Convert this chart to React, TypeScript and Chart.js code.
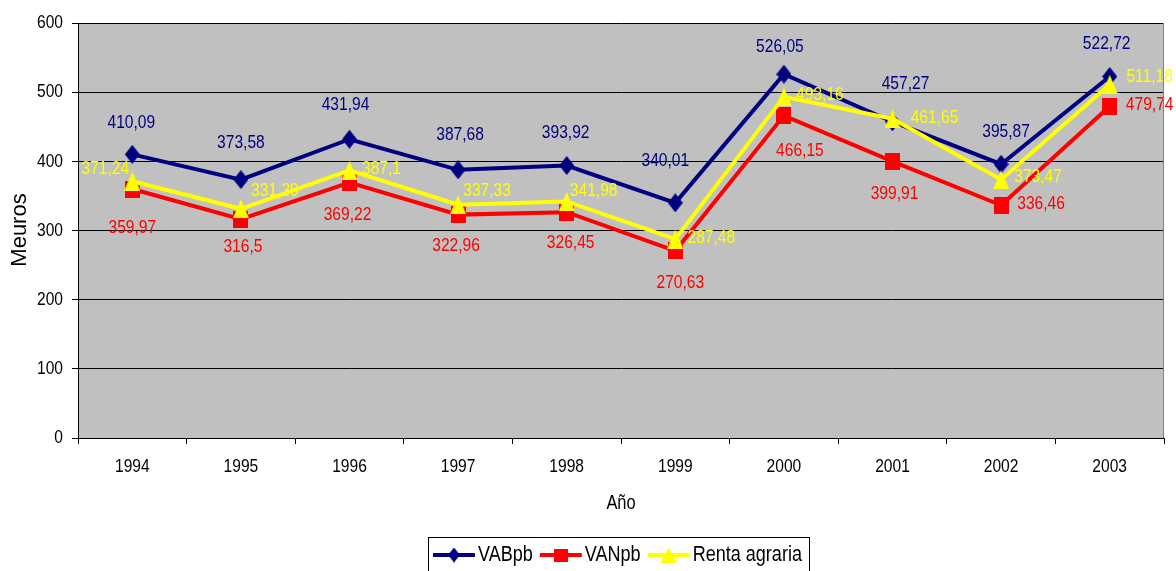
import React, { useEffect, useRef } from 'react';
import { Chart, registerables } from 'chart.js';

Chart.register(...registerables);

const years = ['1994', '1995', '1996', '1997', '1998', '1999', '2000', '2001', '2002', '2003'];
const vabpb = [410.09, 373.58, 431.94, 387.68, 393.92, 340.01, 526.05, 457.27, 395.87, 522.72];
const vanpb = [359.97, 316.5, 369.22, 322.96, 326.45, 270.63, 466.15, 399.91, 336.46, 479.74];
const renta = [371.24, 331.39, 387.1, 337.33, 341.98, 287.48, 493.16, 461.65, 373.47, 511.18];
const seriesNames = ['VABpb', 'VANpb', 'Renta agraria'];
const yMin = 0;
const yMax = 600;
const yStep = 100;
const yTitle = 'Meuros';
const xTitle = 'Año';

// label placement (offset of label centre from its point, in px)
const labelOffsetsVAB = [[-1, -32], [0, -37], [-4, -34], [2, -35], [-1, -33], [-10, -42], [-4, -27], [13, -38], [5, -32], [-3, -33]];
const labelOffsetsVAN = [[0, 39], [2, 28], [-2, 32], [-2, 31], [4, 31], [5, 32], [16, 35], [2, 32], [40, -2], [40, -1]];
const labelOffsetsRenta = [[-27, -12], [34, -18], [32, -1], [29, -14], [27, -11], [36, -1], [36, -2], [42, -1], [37, -3], [40, -8]];

const FONT = "'Liberation Sans', Arial, sans-serif";
const SX = 0.82; // horizontal condensing of text
const NAVY = '#000080';
const RED = '#FF0000';
const YELLOW = '#FFFF00';

const fmt = (v: number) => String(v).replace('.', ',');

function drawText(ctx: CanvasRenderingContext2D, text: string, x: number, y: number, size: number, color: string, align: CanvasTextAlign) {
  ctx.save();
  ctx.translate(x, y);
  ctx.scale(SX, 1);
  ctx.font = `${size}px ${FONT}`;
  ctx.fillStyle = color;
  ctx.textAlign = align;
  ctx.textBaseline = 'middle';
  ctx.fillText(text, 0, 0);
  ctx.restore();
}

function makeMarker(kind: string, w: number, h: number, color: string): HTMLCanvasElement {
  const c = document.createElement('canvas');
  c.width = w;
  c.height = h;
  const g = c.getContext('2d') as CanvasRenderingContext2D;
  g.fillStyle = color;
  g.beginPath();
  if (kind === 'diamond') {
    g.moveTo(w / 2, 0);
    g.lineTo(w, h / 2);
    g.lineTo(w / 2, h);
    g.lineTo(0, h / 2);
  } else if (kind === 'triangle') {
    g.moveTo(w / 2, 0);
    g.lineTo(w, h);
    g.lineTo(0, h);
  } else {
    g.rect(0, 0, w, h);
  }
  g.closePath();
  g.fill();
  return c;
}

const backgroundPlugin = {
  id: 'plotBg',
  beforeDraw(chart: any) {
    const { ctx, chartArea: a } = chart;
    ctx.save();
    ctx.fillStyle = '#FFFFFF';
    ctx.fillRect(0, 0, chart.width, chart.height);
    ctx.fillStyle = '#C0C0C0';
    ctx.fillRect(a.left, a.top, a.right - a.left, a.bottom - a.top);
    ctx.restore();
  },
  afterDraw(chart: any) {
    const { ctx, chartArea: a } = chart;
    ctx.save();
    ctx.strokeStyle = '#808080';
    ctx.lineWidth = 1;
    ctx.beginPath();
    ctx.moveTo(a.right - 0.5, a.top);
    ctx.lineTo(a.right - 0.5, a.bottom);
    ctx.stroke();
    ctx.restore();

    // tick labels
    const xs = chart.scales.x;
    const ys = chart.scales.y;
    xs.ticks.forEach((t: any, i: number) => {
      drawText(ctx, String(xs.getLabelForValue(t.value)), xs.getPixelForTick(i), 467, 19, '#000', 'center');
    });
    ys.ticks.forEach((t: any, i: number) => {
      drawText(ctx, String(t.value), a.left - 15, ys.getPixelForTick(i), 19, '#000', 'right');
    });

    // axis titles
    drawText(ctx, xTitle, (a.left + a.right) / 2, 503, 20, '#000', 'center');
    ctx.save();
    ctx.translate(20, 230);
    ctx.rotate(-Math.PI / 2);
    ctx.font = `22px ${FONT}`;
    ctx.fillStyle = '#000';
    ctx.textAlign = 'center';
    ctx.textBaseline = 'middle';
    ctx.fillText(yTitle, 0, 0);
    ctx.restore();
  },
};

const labelPlugin = {
  id: 'valueLabels',
  afterDatasetsDraw(chart: any) {
    const { ctx } = chart;
    const offsets = [labelOffsetsVAB, labelOffsetsVAN, labelOffsetsRenta];
    const colors = [NAVY, RED, YELLOW];
    chart.data.datasets.forEach((ds: any, i: number) => {
      const meta = chart.getDatasetMeta(i);
      meta.data.forEach((pt: any, j: number) => {
        const [dx, dy] = offsets[i][j];
        drawText(ctx, fmt(ds.data[j]), pt.x + dx, pt.y + dy, 19, colors[i], 'center');
      });
    });
  },
};

const legendPlugin = {
  id: 'customLegend',
  afterDraw(chart: any) {
    const { ctx } = chart;
    ctx.save();
    ctx.strokeStyle = '#000';
    ctx.lineWidth = 1;
    ctx.strokeRect(428.5, 537.5, 381, 50);
    const y = 555;
    const kinds = ['diamond', 'square', 'triangle'];
    const sizes = [[12, 15], [14, 13], [16, 15]];
    let x = 433;
    chart.data.datasets.forEach((ds: any, i: number) => {
      ctx.strokeStyle = ds.borderColor;
      ctx.lineWidth = 4;
      ctx.beginPath();
      ctx.moveTo(x, y);
      ctx.lineTo(x + 42, y);
      ctx.stroke();
      const [w, h] = sizes[i];
      const m = makeMarker(kinds[i], w, h, ds.borderColor);
      ctx.drawImage(m, x + 21 - w / 2, y - h / 2);
      ctx.font = `22px ${FONT}`;
      const tw = ctx.measureText(ds.label).width * SX;
      drawText(ctx, ds.label, x + 45, y, 22, '#000', 'left');
      x += 45 + tw + 7;
    });
    ctx.restore();
  },
};

export default function App() {
  const ref = useRef<HTMLCanvasElement | null>(null);
  useEffect(() => {
    if (!ref.current) return;
    const diamond = makeMarker('diamond', 15, 19, NAVY);
    const square = makeMarker('square', 15, 17, RED);
    const triangle = makeMarker('triangle', 16, 19, YELLOW);
    const chart = new Chart(ref.current, {
      type: 'line',
      data: {
        labels: years,
        datasets: [
          {
            label: seriesNames[0],
            data: vabpb,
            borderColor: NAVY,
            backgroundColor: NAVY,
            borderWidth: 4,
            pointStyle: diamond,
            pointRadius: 8,
            order: 2,
          },
          {
            label: seriesNames[1],
            data: vanpb,
            borderColor: RED,
            backgroundColor: RED,
            borderWidth: 4,
            pointStyle: square,
            pointRadius: 8,
            order: 1,
          },
          {
            label: seriesNames[2],
            data: renta,
            borderColor: YELLOW,
            backgroundColor: YELLOW,
            borderWidth: 4,
            pointStyle: triangle,
            pointRadius: 8,
            order: 0,
          },
        ],
      },
      options: {
        responsive: false,
        animation: false,
        events: [],
        layout: { padding: { left: 0, right: 9, top: 23, bottom: 0 } },
        plugins: {
          legend: { display: false },
          tooltip: { enabled: false },
          title: { display: false },
        },
        scales: {
          x: {
            type: 'category',
            offset: true,
            afterFit: (s: any) => { s.height = 133; },
            grid: {
              offset: true,
              drawOnChartArea: false,
              drawTicks: true,
              tickLength: 6,
              tickColor: '#000',
              color: '#000',
            },
            border: { display: true, color: '#000', width: 1 },
            ticks: { color: 'rgba(0,0,0,0)', font: { family: FONT, size: 19 }, padding: 12, maxRotation: 0 },
          },
          y: {
            min: yMin,
            max: yMax,
            afterFit: (s: any) => { s.width = 78; },
            grid: {
              color: '#000',
              lineWidth: 1,
              drawTicks: true,
              tickLength: 6,
              tickColor: '#000',
            },
            border: { display: true, color: '#000', width: 1 },
            ticks: { stepSize: yStep, color: 'rgba(0,0,0,0)', font: { family: FONT, size: 19 }, padding: 9 },
          },
        },
      },
      plugins: [backgroundPlugin, labelPlugin, legendPlugin],
    });
    return () => chart.destroy();
  }, []);
  return (
    <div style={{ position: 'absolute', left: 0, top: 0, width: 1176, height: 571 }}>
      <canvas ref={ref} width={1176} height={571} style={{ display: 'block' }} />
    </div>
  );
}
